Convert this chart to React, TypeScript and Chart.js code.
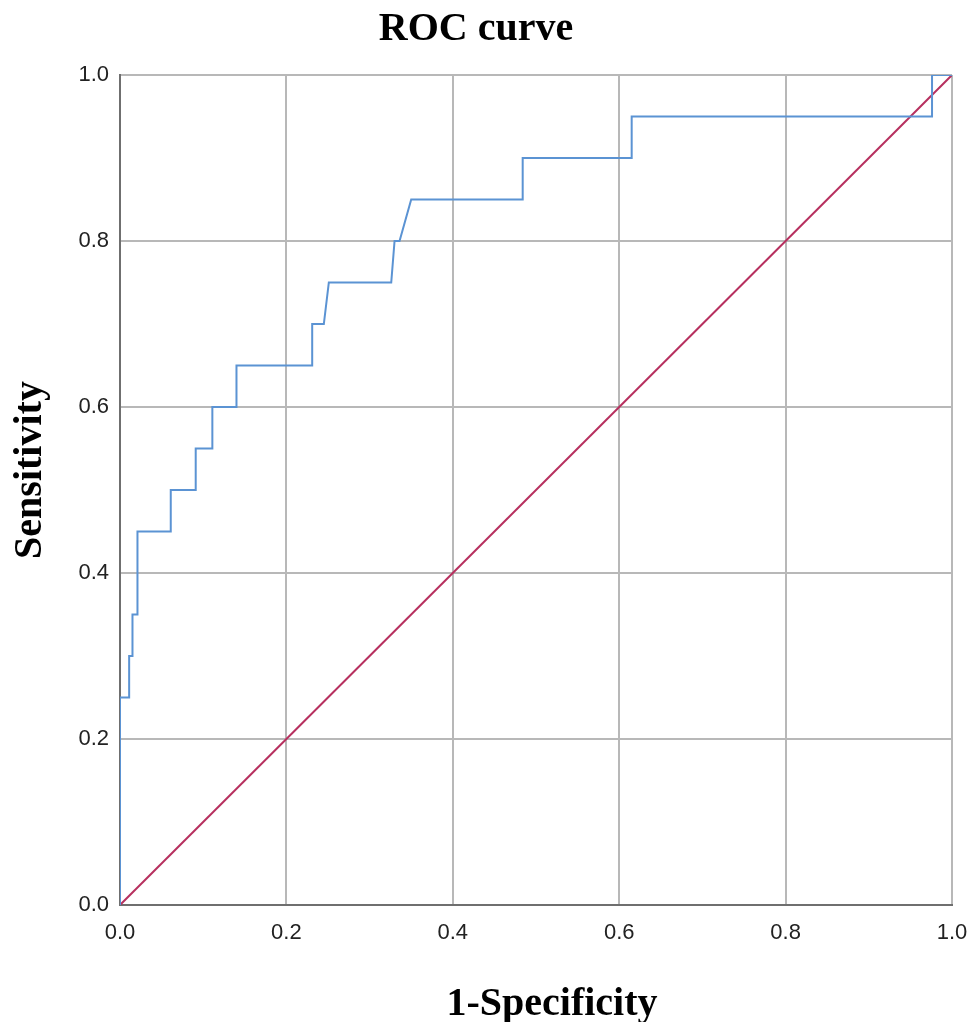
import React, { useEffect, useRef } from "react";
import { Chart, registerables } from "chart.js";

Chart.register(...registerables);

const chartTitle = "ROC curve";
const xAxisTitle = "1-Specificity";
const yAxisTitle = "Sensitivity";

// ROC curve (1-specificity, sensitivity)
const fprValues = [0, 0, 0.011, 0.011, 0.015, 0.015, 0.021, 0.021, 0.061, 0.061, 0.091, 0.091, 0.111, 0.111, 0.14, 0.14, 0.231, 0.231, 0.245, 0.251, 0.326, 0.33, 0.336, 0.35, 0.484, 0.484, 0.615, 0.615, 0.976, 0.976, 1];
const tprValues = [0, 0.25, 0.25, 0.3, 0.3, 0.35, 0.35, 0.45, 0.45, 0.5, 0.5, 0.55, 0.55, 0.6, 0.6, 0.65, 0.65, 0.7, 0.7, 0.75, 0.75, 0.8, 0.8, 0.85, 0.85, 0.9, 0.9, 0.95, 0.95, 1, 1];

// Reference line
const refX = [0, 1];
const refY = [0, 1];

const tickValues = [0, 0.2, 0.4, 0.6, 0.8, 1.0];

const axisTitlesPlugin = {
  id: "axisTitlesCustom",
  afterDraw(chart: any) {
    const { ctx, chartArea } = chart;
    ctx.save();
    ctx.fillStyle = "#000";
    ctx.font = 'bold 40px "Liberation Serif", "Times New Roman", serif';
    ctx.textAlign = "center";
    ctx.textBaseline = "alphabetic";
    const cx = (chartArea.left + chartArea.right) / 2 + 16;
    ctx.fillText(xAxisTitle, cx, chartArea.bottom + 110);
    const cy = (chartArea.top + chartArea.bottom) / 2 - 20;
    ctx.translate(41, cy);
    ctx.rotate(-Math.PI / 2);
    ctx.fillText(yAxisTitle, 0, 0);
    ctx.restore();
  },
};

export default function App() {
  const canvasRef = useRef<HTMLCanvasElement | null>(null);

  useEffect(() => {
    document.body.style.margin = "0";
    document.body.style.overflow = "hidden";
    const canvas = canvasRef.current;
    if (!canvas) return;
    const rocData = fprValues.map((x, i) => ({ x, y: tprValues[i] }));
    const refData = refX.map((x, i) => ({ x, y: refY[i] }));
    const tickFont = { family: '"Liberation Sans", Arial, sans-serif', size: 22 };
    const chart = new Chart(canvas, {
      type: "line",
      data: {
        datasets: [
          {
            label: "ROC",
            data: rocData,
            borderColor: "#5b93d3",
            borderWidth: 2,
            pointRadius: 0,
            tension: 0,
            fill: false,
          },
          {
            label: "Reference",
            data: refData,
            borderColor: "#b7305f",
            borderWidth: 2,
            pointRadius: 0,
            tension: 0,
            fill: false,
          },
        ],
      },
      options: {
        animation: false,
        responsive: false,
        devicePixelRatio: 1,
        layout: { padding: { left: 0, right: 17, top: 0, bottom: 0 } },
        plugins: {
          legend: { display: false },
          tooltip: { enabled: false },
          title: {
            display: true,
            text: chartTitle,
            color: "#000",
            font: { family: '"Liberation Serif", "Times New Roman", serif', size: 40, weight: "bold", lineHeight: 1.2 },
            padding: { top: 6, bottom: 21 },
          },
        },
        scales: {
          x: {
            type: "linear",
            min: 0,
            max: 1,
            afterBuildTicks: (scale: any) => {
              scale.ticks = tickValues.map((v) => ({ value: v }));
            },
            afterFit: (scale: any) => {
              scale.height = 117;
              scale.paddingLeft = 0;
              scale.paddingRight = 0;
            },
            ticks: {
              color: "#222",
              font: tickFont,
              padding: 15,
              maxRotation: 0,
              callback: (v: any) => Number(v).toFixed(1),
            },
            grid: { color: "#b8b8b8", lineWidth: 2, drawTicks: false },
            border: { color: "#6f6f6f", width: 2 },
          },
          y: {
            type: "linear",
            min: 0,
            max: 1,
            afterBuildTicks: (scale: any) => {
              scale.ticks = tickValues.map((v) => ({ value: v }));
            },
            afterFit: (scale: any) => {
              scale.width = 120;
            },
            ticks: {
              color: "#222",
              font: tickFont,
              padding: 11,
              callback: (v: any) => Number(v).toFixed(1),
            },
            grid: { color: "#b8b8b8", lineWidth: 2, drawTicks: false },
            border: { color: "#6f6f6f", width: 2 },
          },
        },
      },
      plugins: [axisTitlesPlugin],
    });
    return () => chart.destroy();
  }, []);

  return (
    <canvas
      ref={canvasRef}
      width={969}
      height={1022}
      style={{ display: "block", width: "969px", height: "1022px" }}
    />
  );
}
